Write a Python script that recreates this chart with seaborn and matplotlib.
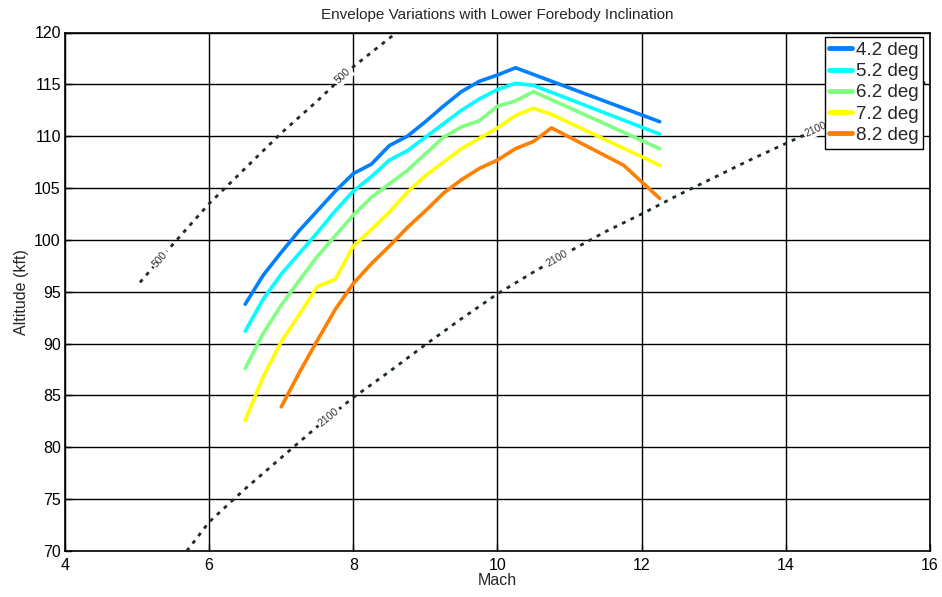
import numpy as np
import pandas as pd
import matplotlib
matplotlib.use("Agg")
import matplotlib.pyplot as plt
import seaborn as sns

# Envelope boundaries for each lower forebody inclination (Mach, altitude in kft)
mach_42 = [6.5, 6.75, 7.0, 7.25, 7.5, 7.75, 8.0, 8.25, 8.5, 8.75, 9.0, 9.25, 9.5, 9.75, 10.0, 10.25, 12.25]
alt_42 = [93.8, 96.6, 98.8, 100.9, 102.8, 104.7, 106.4, 107.3, 109.1, 110.0, 111.4, 112.9, 114.3, 115.3, 115.9, 116.6, 111.4]

mach_52 = [6.5, 6.75, 7.0, 7.25, 7.5, 7.75, 8.0, 8.25, 8.5, 8.75, 9.0, 9.25, 9.5, 9.75, 10.0, 10.25, 10.5, 12.25]
alt_52 = [91.2, 94.3, 96.7, 98.7, 100.7, 102.8, 104.7, 106.1, 107.7, 108.6, 109.9, 111.2, 112.5, 113.6, 114.5, 115.1, 114.9, 110.2]

mach_62 = [6.5, 6.75, 7.0, 7.25, 7.5, 7.75, 8.0, 8.25, 8.5, 8.75, 9.0, 9.25, 9.5, 9.75, 10.0, 10.25, 10.5, 12.25]
alt_62 = [87.6, 91.0, 93.7, 96.1, 98.4, 100.4, 102.4, 104.1, 105.4, 106.7, 108.3, 109.9, 110.9, 111.5, 112.9, 113.4, 114.3, 108.8]

mach_72 = [6.5, 6.75, 7.0, 7.25, 7.5, 7.75, 8.0, 8.25, 8.5, 8.75, 9.0, 9.25, 9.5, 9.75, 10.0, 10.25, 10.5, 10.75, 12.25]
alt_72 = [82.6, 86.8, 90.2, 92.8, 95.5, 96.2, 99.4, 101.0, 102.7, 104.6, 106.2, 107.5, 108.8, 109.8, 110.8, 112.0, 112.7, 112.1, 107.2]

mach_82 = [7.0, 7.25, 7.5, 7.75, 8.0, 8.25, 8.5, 8.75, 9.0, 9.25, 9.5, 9.75, 10.0, 10.25, 10.5, 10.75, 11.75, 12.25]
alt_82 = [83.9, 87.2, 90.3, 93.3, 95.8, 97.7, 99.4, 101.2, 102.8, 104.5, 105.8, 106.9, 107.7, 108.8, 109.5, 110.8, 107.2, 104.0]

series_labels = ["4.2 deg", "5.2 deg", "6.2 deg", "7.2 deg", "8.2 deg"]
series_colors = ["#0080ff", "#00ffff", "#80ff80", "#ffff00", "#ff8000"]

# Dynamic pressure contours (psf)
q_levels = ["500", "2100"]
mach_q500 = [5.04, 5.5, 6.0, 6.5, 7.0, 7.5, 8.0, 8.6]
alt_q500 = [95.9, 99.6, 103.5, 106.9, 110.3, 113.4, 116.7, 120.0]
mach_q2100 = [5.69, 6.0, 6.5, 7.0, 7.5, 8.0, 8.5, 9.0, 9.5, 10.0, 10.5, 11.0, 11.5, 12.0, 12.5, 13.0, 13.5, 14.0, 14.5, 15.0, 16.0]
alt_q2100 = [70.0, 72.8, 76.0, 79.0, 82.0, 84.8, 87.3, 89.9, 92.4, 94.8, 96.9, 98.9, 100.8, 102.5, 104.3, 106.0, 107.7, 109.3, 110.9, 112.4, 115.4]

x_ticks = [4, 6, 8, 10, 12, 14, 16]
y_ticks = [70, 75, 80, 85, 90, 95, 100, 105, 110, 115, 120]

frames = []
for lab, m, a in zip(series_labels,
                     [mach_42, mach_52, mach_62, mach_72, mach_82],
                     [alt_42, alt_52, alt_62, alt_72, alt_82]):
    frames.append(pd.DataFrame({"Mach": m, "Altitude": a, "Inclination": lab}))
df = pd.concat(frames, ignore_index=True)

sns.set_theme(style="white")
plt.rcParams["font.family"] = ["Liberation Sans", "DejaVu Sans"]

fig = plt.figure(figsize=(9.42, 5.97), dpi=100)
ax = fig.add_axes([65 / 942, 46 / 597, 865 / 942, 518.5 / 597])

sns.lineplot(data=df, x="Mach", y="Altitude", hue="Inclination",
             hue_order=series_labels, palette=dict(zip(series_labels, series_colors)),
             sort=False, estimator=None, linewidth=2.6, ax=ax, zorder=4, legend=True)

# Dotted dynamic-pressure contours
contours = [(mach_q500, alt_q500), (mach_q2100, alt_q2100)]
for (m, a) in contours:
    ax.plot(m, a, color="#1c2a2a", linewidth=2.0, linestyle=(0, (1.4, 2.0)),
            dash_capstyle="butt", zorder=3)

ax.set_xlim(4, 16)
ax.set_ylim(70, 120)

# Inline contour labels
label_spots = [(0, 5.32), (0, 7.86), (1, 7.66), (1, 10.83), (1, 14.42)]
fig.canvas.draw()
for idx, mx in label_spots:
    m, a = contours[idx]
    ay = np.interp(mx, m, a)
    p0 = ax.transData.transform((mx - 0.1, np.interp(mx - 0.1, m, a)))
    p1 = ax.transData.transform((mx + 0.1, np.interp(mx + 0.1, m, a)))
    ang = np.degrees(np.arctan2(p1[1] - p0[1], p1[0] - p0[0]))
    ax.text(mx, ay, q_levels[idx], rotation=ang, rotation_mode="anchor",
            ha="center", va="center", fontsize=7.5, color="#333333", zorder=3.5,
            bbox=dict(facecolor="white", edgecolor="none", pad=1.2))

ax.set_xticks(x_ticks)
ax.set_yticks(y_ticks)
ax.tick_params(axis="both", direction="in", length=5, width=1, labelsize=11.5,
               colors="black", top=False, right=False, bottom=True, left=True)
ax.tick_params(axis="x", pad=5)
ax.tick_params(axis="y", pad=3)
ax.grid(True, color="black", linewidth=1.0, linestyle="-")
ax.set_axisbelow(True)
for s in ax.spines.values():
    s.set_visible(True)
    s.set_color("black")
    s.set_linewidth(1.2)

ax.set_xlabel("Mach", fontsize=11.5, labelpad=0)
ax.set_ylabel("Altitude (kft)", fontsize=11.5, labelpad=4)
ax.set_title("Envelope Variations with Lower Forebody Inclination", fontsize=11, pad=10)

handles, labels = ax.get_legend_handles_labels()
leg = ax.legend(handles[:5], labels[:5], loc="upper right",
                bbox_to_anchor=((923 - 65) / 865, 1 - (37 - 32.5) / 518.5),
                borderaxespad=0, fontsize=13.5, frameon=True, fancybox=False,
                framealpha=1, edgecolor="black", handlelength=1.2,
                handletextpad=0.2, labelspacing=0.22, borderpad=0.25)
leg.get_frame().set_linewidth(1.0)
for h in leg.get_lines():
    h.set_linewidth(3.5)

fig.savefig("out.png", dpi=100, facecolor="white")
